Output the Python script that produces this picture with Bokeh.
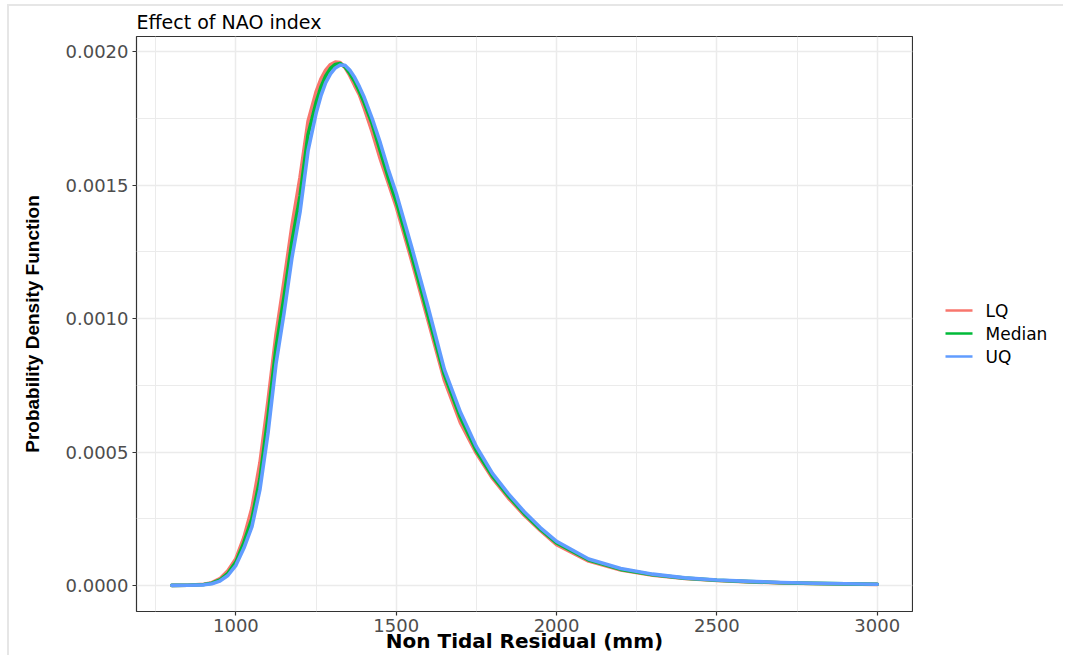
from bokeh.plotting import figure
from bokeh.models import (ColumnDataSource, FixedTicker, PrintfTickFormatter,
                          Range1d)
from bokeh.layouts import row
from bokeh.core.properties import value
from bokeh.embed import file_html
from bokeh.resources import INLINE

# ---- data ----
x_mm = [800, 850, 900, 925, 950, 975, 1000, 1025, 1050, 1075, 1100, 1125, 1150,
        1175, 1200, 1225, 1250, 1265, 1280, 1295, 1310, 1325, 1340, 1355, 1370,
        1385, 1400, 1425, 1450, 1475, 1500, 1550, 1600, 1650, 1700, 1750, 1800,
        1850, 1900, 1950, 2000, 2100, 2200, 2300, 2400, 2500, 2600, 2700, 2800,
        2900, 3000]

lq = [0.0, 0.0000004, 0.000004, 0.00001, 0.000025, 0.000055, 0.0001, 0.00018,
      0.00029, 0.00046, 0.00069, 0.00094, 0.00114, 0.00135, 0.00153, 0.00174,
      0.00185, 0.001898, 0.001932, 0.001953, 0.001962, 0.00196, 0.001942,
      0.001912, 0.001875, 0.00184, 0.00179, 0.00170,
      0.00160, 0.00151, 0.00142, 0.00121, 0.00099, 0.00077, 0.00061, 0.000495,
      0.000402, 0.000327, 0.000262, 0.000205, 0.000153, 0.000091, 0.000058,
      0.000038, 0.000026, 0.000018, 0.000013, 0.0000095, 0.000007, 0.000005,
      0.0000037]

median = [0.0, 0.0000003, 0.000003, 0.000008, 0.00002, 0.000045, 0.000087,
          0.00016, 0.00025, 0.00040, 0.00063, 0.00089, 0.00108, 0.00129,
          0.00146, 0.00169, 0.00181, 0.001868, 0.00191, 0.001938, 0.001953,
          0.001957, 0.001945, 0.00192, 0.00189, 0.001852, 0.00181, 0.00173,
          0.00163, 0.00153, 0.00144, 0.00123,
          0.00101, 0.00079, 0.00063, 0.000505, 0.00041, 0.000335, 0.000268,
          0.00021, 0.000159, 0.000095, 0.00006, 0.00004, 0.000027, 0.000019,
          0.000014, 0.00001, 0.0000075, 0.0000055, 0.000004]

uq = [0.0, 0.0000002, 0.000002, 0.000006, 0.000016, 0.000037, 0.000075,
      0.00014, 0.00022, 0.00036, 0.00057, 0.00083, 0.00102, 0.00123, 0.00140,
      0.00163, 0.00177, 0.001835, 0.001885, 0.001918, 0.00194, 0.001951,
      0.00195, 0.001932, 0.001905, 0.00187, 0.00183,
      0.00175, 0.00166, 0.00156, 0.00147, 0.00126, 0.00104, 0.00081, 0.00065,
      0.00052, 0.00042, 0.000343, 0.000275, 0.000216, 0.000165, 0.000099,
      0.000063, 0.000042, 0.000028, 0.00002, 0.000015, 0.000011, 0.000008,
      0.000006, 0.0000043]

series_names = ["LQ", "Median", "UQ"]
series_colors = ["#F8766D", "#00BA38", "#619CFF"]

x_ticks = [1000, 1500, 2000, 2500, 3000]
x_minor = [750, 1250, 1750, 2250, 2750]
y_ticks = [0.0, 0.0005, 0.0010, 0.0015, 0.0020]
y_minor = [0.00025, 0.00075, 0.00125, 0.00175]

title_text = "Effect of NAO index"
x_label = "Non Tidal Residual (mm)"
y_label = "Probability Density Function"

H = 655
MAIN_W = 913
LEG_W = 1066 - MAIN_W
TOP, BOTTOM = 36, 44

# ---- main figure ----
p = figure(width=MAIN_W, height=H, output_backend="svg", toolbar_location=None,
           min_border_left=136, min_border_right=1, min_border_top=TOP,
           min_border_bottom=BOTTOM,
           x_range=Range1d(690, 3110), y_range=Range1d(-0.000098, 0.002058),
           title=title_text)
p.background_fill_color = "white"
p.border_fill_alpha = 0
p.outline_line_color = "#333333"
p.outline_line_width = 1.2

p.title.text_font = "DejaVu Sans"
p.title.text_font_size = "19px"
p.title.text_font_style = "normal"
p.title.text_color = "black"
p.title.align = "left"
p.title.standoff = 7

src = ColumnDataSource(dict(x=x_mm, lq=lq, median=median, uq=uq))
for col, c in zip(["lq", "median", "uq"], series_colors):
    p.line("x", col, source=src, line_color=c, line_width=3.6,
           line_join="round", line_cap="round")

# grids
for g, major, minor in [(p.xgrid, x_ticks, x_minor), (p.ygrid, y_ticks, y_minor)]:
    g.ticker = FixedTicker(ticks=major, minor_ticks=minor)
    g.grid_line_color = "#ebebeb"
    g.grid_line_width = 1.5
    g.minor_grid_line_color = "#ebebeb"
    g.minor_grid_line_width = 1.0

p.xaxis.ticker = FixedTicker(ticks=x_ticks)
p.yaxis.ticker = FixedTicker(ticks=y_ticks)
p.yaxis.formatter = PrintfTickFormatter(format="%.4f")

for ax in (p.xaxis, p.yaxis):
    ax.axis_line_color = None
    ax.major_tick_line_color = "#333333"
    ax.major_tick_line_width = 1.2
    ax.major_tick_in = 0
    ax.major_tick_out = 4
    ax.minor_tick_line_color = None
    ax.major_label_text_font = "DejaVu Sans"
    ax.major_label_text_font_size = "18px"
    ax.major_label_text_color = "#4d4d4d"
    ax.axis_label_text_color = "black"
    ax.axis_label_text_font_style = "bold"

p.xaxis.axis_label = x_label
p.xaxis.axis_label_text_font = "DejaVu Sans"
p.xaxis.axis_label_text_font_size = "20px"
p.xaxis.major_label_standoff = 3
p.xaxis.axis_label_standoff = -6

p.yaxis.axis_label = y_label
p.yaxis.axis_label_text_font = "Liberation Sans"
p.yaxis.axis_label_text_font_size = "19px"
p.yaxis.major_label_standoff = 4
p.yaxis.axis_label_standoff = 20

# ---- legend panel (separate figure to the right) ----
# y range maps page pixels of the frame (TOP .. H-BOTTOM) one to one
leg = figure(width=LEG_W, height=H, output_backend="svg", toolbar_location=None,
             x_range=Range1d(0, LEG_W), y_range=Range1d(H - BOTTOM, TOP),
             x_axis_location=None, y_axis_location=None,
             min_border_left=0, min_border_right=0,
             min_border_top=TOP, min_border_bottom=BOTTOM)
leg.grid.visible = False
leg.outline_line_color = None
leg.background_fill_alpha = 0
leg.border_fill_alpha = 0

key_y = [310, 333, 356]
leg_src = ColumnDataSource(dict(
    x0=[32] * 3, x1=[59] * 3, y=key_y, tx=[72] * 3,
    name=series_names, color=series_colors))
leg.segment(x0="x0", y0="y", x1="x1", y1="y", source=leg_src,
            line_color="color", line_width=2.6)
leg.text(x="tx", y="y", text="name", source=leg_src,
         text_font=value("DejaVu Sans"), text_font_size="17px",
         text_color="black", text_baseline="middle", text_align="left")

layout = row(p, leg, spacing=0)
layout.styles = {
    "background": ("linear-gradient(#e6e6e6,#e6e6e6) 7px 4px / calc(100% - 10px) 2px no-repeat, "
                   "linear-gradient(#e6e6e6,#e6e6e6) 7px 4px / 2px 100% no-repeat, white")
}
open("out.html", "w").write(file_html(layout, INLINE))
